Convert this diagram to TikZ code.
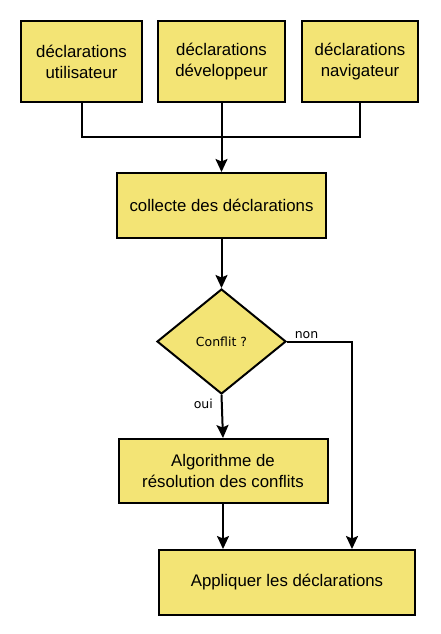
\documentclass[tikz,border=0pt]{standalone}
\usepackage{fontspec}
\setmainfont{Liberation Sans}
\newfontfamily\dejavu{DejaVu Sans}
\usetikzlibrary{arrows.meta, positioning, shapes.geometric}
\definecolor{boxc}{RGB}{243,228,117}
\tikzset{
  blk/.style={draw, line width=2pt, fill=boxc, inner sep=0pt,
              align=center, font=\fontsize{16.8}{21}\selectfont},
  choice/.style={diamond, draw, line width=2pt, fill=boxc, inner sep=0pt,
                 font=\dejavu\fontsize{12.5}{15}\selectfont},
  lbl/.style={font=\dejavu\fontsize{12.5}{15}\selectfont, inner sep=2pt},
  link/.style={line width=2pt},
  flow/.style={-{Stealth[length=13pt, width=12pt, inset=2.5pt]}, line width=2pt},
}

\begin{document}
\begin{tikzpicture}[x=1pt, y=-1pt]
  \useasboundingbox (0,0) rectangle (440,634);
  % sources of declarations
  \node[blk, minimum width=121pt, minimum height=81pt] (user) at (81.5,61.5)
    {déclarations\\utilisateur};
  \node[blk, minimum width=127pt, minimum height=81pt] (dev) at (221.5,61.5)
    {déclarations\\développeur};
  \node[blk, minimum width=116pt, minimum height=81pt] (nav) at (360,61.5)
    {déclarations\\navigateur};

  % gathering and test
  \node[blk, minimum width=209pt, minimum height=65pt] (collect) at (221.5,205.5)
    {collecte des déclarations};
  \node[choice, minimum width=129pt, minimum height=105pt] (conflict) at (221.5,341.5)
    {Conflit ?};

  % outcome
  \node[blk, minimum width=209pt, minimum height=64pt] (resolve) at (223,471)
    {Algorithme de\\résolution des conflits};
  \node[blk, minimum width=256pt, minimum height=65pt] (apply) at (287,582.5)
    {Appliquer les déclarations};

  % connectors
  \coordinate (join) at (221.5,137);
  \draw[link] (user.south) |- (join);
  \draw[link] (nav.south) |- (join);
  \draw[flow] (dev.south) -- (collect.north);
  \draw[flow] (collect.south) -- (conflict.north);
  \draw[flow] (conflict.south) -- node[lbl, pos=0.2, left=6pt] {oui} (resolve.north);
  \draw[flow] (conflict.east) -| node[lbl, pos=0.15, above] {non}
    ([xshift=-64pt]apply.north east);
  \draw[flow] (resolve.south) -- (resolve.south |- apply.north);
\end{tikzpicture}
\end{document}
